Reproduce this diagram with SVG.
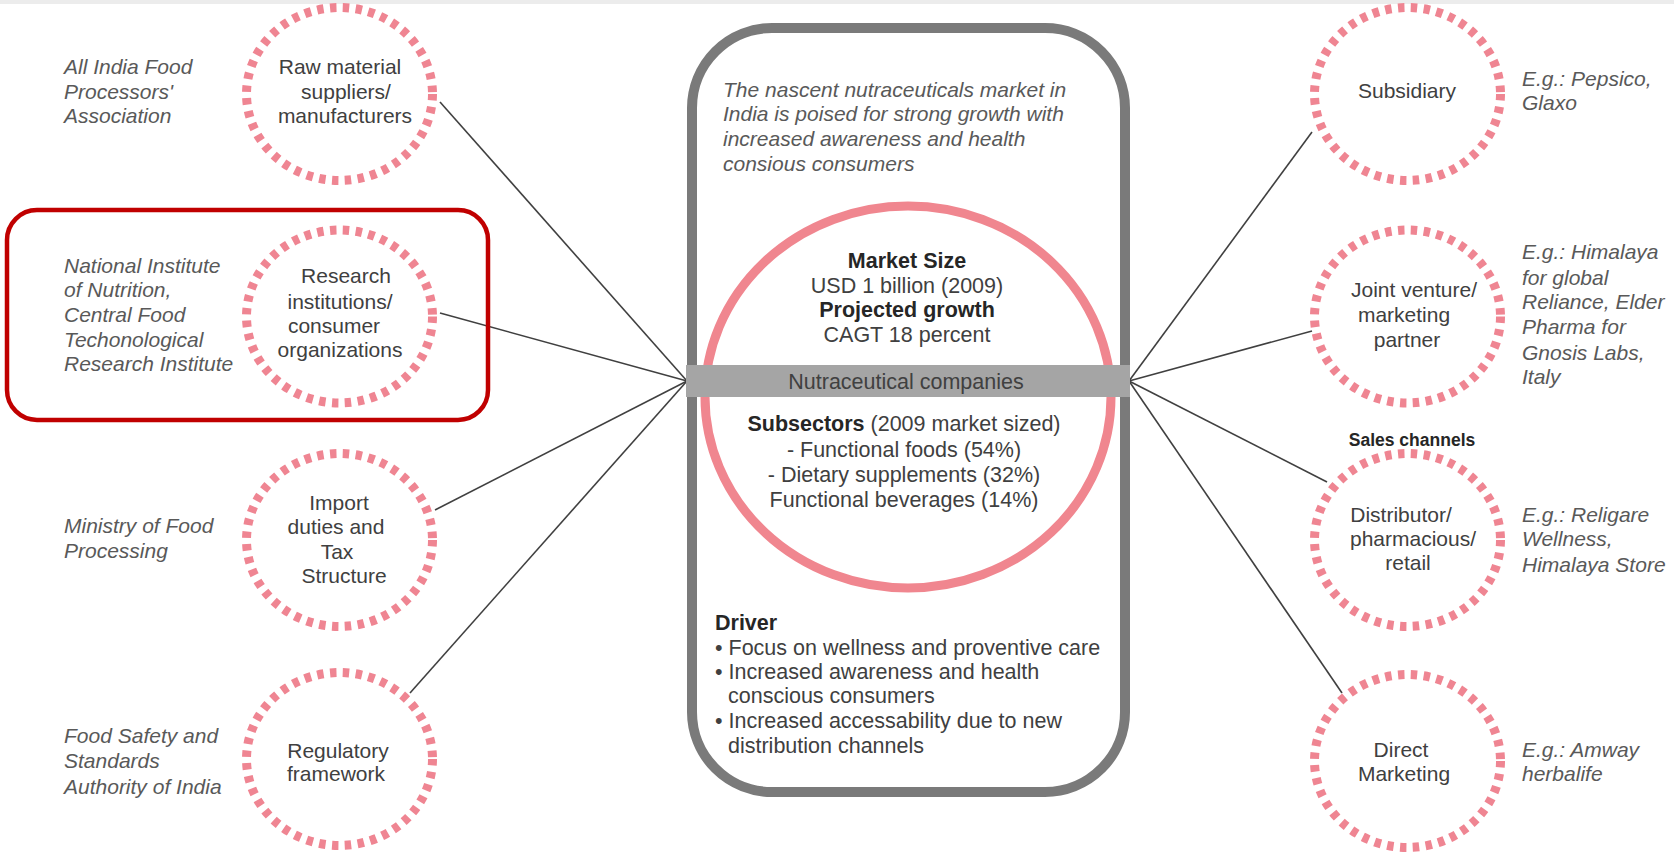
<svg xmlns="http://www.w3.org/2000/svg" width="1674" height="859" viewBox="0 0 1674 859">
<style>
.t{font-family:"Liberation Sans",Arial,sans-serif;font-size:21px;fill:#404040;text-anchor:middle}
.i{font-family:"Liberation Sans",Arial,sans-serif;font-size:21px;fill:#595959;font-style:italic}
.c{font-family:"Liberation Sans",Arial,sans-serif;font-size:21.5px;fill:#404040}
.b{font-weight:bold;fill:#262626}
.dash{fill:none;stroke:#ef8592;stroke-width:9;stroke-dasharray:6.5 6.4}
.ln{stroke:#404040;stroke-width:1.6;fill:none}
</style>
<rect x="0" y="0" width="1674" height="859" fill="#ffffff"/>
<rect x="0" y="0" width="1674" height="4" fill="#ececec"/>

<g id="connectors">
<line class="ln" x1="440" y1="102" x2="687" y2="381"/>
<line class="ln" x1="440" y1="313" x2="687" y2="381"/>
<line class="ln" x1="435" y1="510" x2="687" y2="381"/>
<line class="ln" x1="410" y1="693" x2="687" y2="381"/>
<line class="ln" x1="1312" y1="132" x2="1129" y2="381"/>
<line class="ln" x1="1312" y1="331" x2="1129" y2="381"/>
<line class="ln" x1="1327" y1="482" x2="1129" y2="381"/>
<line class="ln" x1="1342" y1="693" x2="1129" y2="381"/>
</g>

<g id="center">
<rect x="692" y="28" width="433" height="764" rx="80" ry="80" fill="#ffffff" stroke="#7a7a7a" stroke-width="10"/>
<text class="i" x="723" y="97">The nascent nutraceuticals market in</text>
<text class="i" x="723" y="121">India is poised for strong growth with</text>
<text class="i" x="723" y="146">increased awareness and health</text>
<text class="i" x="723" y="171">consious consumers</text>
<ellipse cx="908" cy="397" rx="203" ry="191" fill="none" stroke="#f0868f" stroke-width="9"/>
<text class="c b" x="907" y="268" text-anchor="middle">Market Size</text>
<text class="c" x="907" y="293" text-anchor="middle">USD 1 billion (2009)</text>
<text class="c b" x="907" y="317" text-anchor="middle">Projected growth</text>
<text class="c" x="907" y="342" text-anchor="middle">CAGT 18 percent</text>
<rect x="686" y="365" width="444" height="32" fill="#a5a5a5"/>
<text class="c" x="906" y="389" text-anchor="middle">Nutraceutical companies</text>
<text class="c" x="904" y="431" text-anchor="middle"><tspan class="b">Subsectors</tspan> (2009 market sized)</text>
<text class="c" x="904" y="457" text-anchor="middle">- Functional foods (54%)</text>
<text class="c" x="904" y="482" text-anchor="middle">- Dietary supplements (32%)</text>
<text class="c" x="904" y="507" text-anchor="middle">Functional beverages (14%)</text>
<text class="c b" x="715" y="630">Driver</text>
<text class="c" x="715" y="655">• Focus on wellness and proventive care</text>
<text class="c" x="715" y="679">• Increased awareness and health</text>
<text class="c" x="728" y="703">conscious consumers</text>
<text class="c" x="715" y="728">• Increased accessability due to new</text>
<text class="c" x="728" y="753">distribution channels</text>
</g>

<g id="highlight">
<rect x="7" y="210" width="481" height="210" rx="30" ry="30" fill="none" stroke="#c00000" stroke-width="4.5"/>
</g>

<g id="raw-material">
<ellipse class="dash" cx="339.5" cy="94" rx="93" ry="86.5"/>
<text class="t" x="340" y="74">Raw material</text>
<text class="t" x="346" y="99">suppliers/</text>
<text class="t" x="345" y="123">manufacturers</text>
<text class="i" x="64" y="74">All India Food</text>
<text class="i" x="64" y="99">Processors'</text>
<text class="i" x="64" y="123">Association</text>
</g>

<g id="research">
<ellipse class="dash" cx="339.5" cy="316.5" rx="93" ry="86.5"/>
<text class="t" x="346" y="283">Research</text>
<text class="t" x="340" y="309">institutions/</text>
<text class="t" x="334" y="333">consumer</text>
<text class="t" x="340" y="357">organizations</text>
<text class="i" x="64" y="273">National Institute</text>
<text class="i" x="64" y="297">of Nutrition,</text>
<text class="i" x="64" y="322">Central Food</text>
<text class="i" x="64" y="347">Techonological</text>
<text class="i" x="64" y="371">Research Institute</text>
</g>

<g id="import">
<ellipse class="dash" cx="339.5" cy="540" rx="93" ry="86.5"/>
<text class="t" x="339" y="510">Import</text>
<text class="t" x="336" y="534">duties and</text>
<text class="t" x="337" y="559">Tax</text>
<text class="t" x="344" y="583">Structure</text>
<text class="i" x="64" y="533">Ministry of Food</text>
<text class="i" x="64" y="558">Processing</text>
</g>

<g id="regulatory">
<ellipse class="dash" cx="339.5" cy="759" rx="93" ry="86.5"/>
<text class="t" x="338" y="758">Regulatory</text>
<text class="t" x="336" y="781">framework</text>
<text class="i" x="64" y="743">Food Safety and</text>
<text class="i" x="64" y="768">Standards</text>
<text class="i" x="64" y="794">Authority of India</text>
</g>

<g id="subsidiary">
<ellipse class="dash" cx="1407.5" cy="94" rx="93" ry="86.5"/>
<text class="t" x="1407" y="98">Subsidiary</text>
<text class="i" x="1522" y="86">E.g.: Pepsico,</text>
<text class="i" x="1522" y="110">Glaxo</text>
</g>

<g id="joint-venture">
<ellipse class="dash" cx="1407.5" cy="316.5" rx="93" ry="86.5"/>
<text class="t" x="1414" y="297">Joint venture/</text>
<text class="t" x="1404" y="322">marketing</text>
<text class="t" x="1407" y="347">partner</text>
<text class="i" x="1522" y="259">E.g.: Himalaya</text>
<text class="i" x="1522" y="285">for global</text>
<text class="i" x="1522" y="309">Reliance, Elder</text>
<text class="i" x="1522" y="334">Pharma for</text>
<text class="i" x="1522" y="360">Gnosis Labs,</text>
<text class="i" x="1522" y="384">Italy</text>
</g>

<g id="sales-channels-label">
<text class="t b" x="1412" y="446" style="font-size:17.5px">Sales channels</text>
</g>

<g id="distributor">
<ellipse class="dash" cx="1407.5" cy="540" rx="93" ry="86.5"/>
<text class="t" x="1401" y="522">Distributor/</text>
<text class="t" x="1413" y="546">pharmacious/</text>
<text class="t" x="1408" y="570">retail</text>
<text class="i" x="1522" y="522">E.g.: Religare</text>
<text class="i" x="1522" y="546">Wellness,</text>
<text class="i" x="1522" y="572">Himalaya Store</text>
</g>

<g id="direct-marketing">
<ellipse class="dash" cx="1407.5" cy="761" rx="93" ry="86.5"/>
<text class="t" x="1401" y="757">Direct</text>
<text class="t" x="1404" y="781">Marketing</text>
<text class="i" x="1522" y="757">E.g.: Amway</text>
<text class="i" x="1522" y="781">herbalife</text>
</g>
</svg>
